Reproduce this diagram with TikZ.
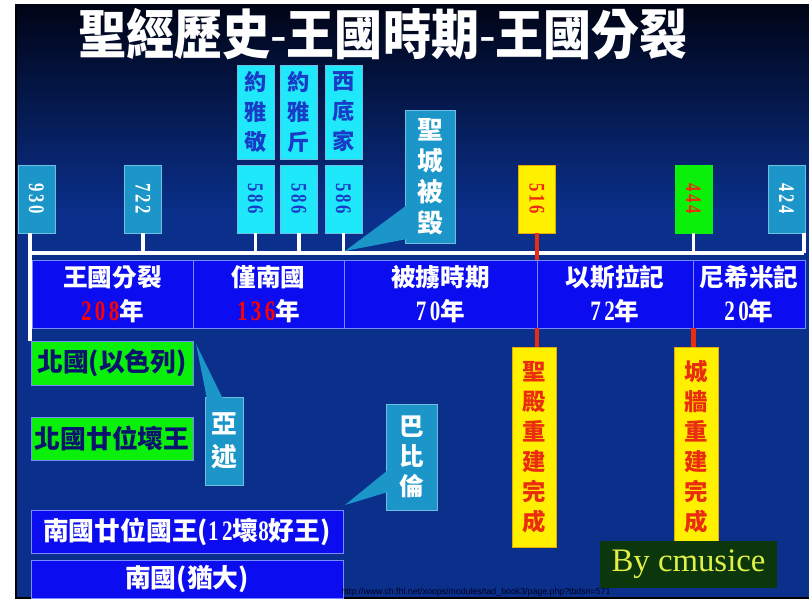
\documentclass[tikz,border=0pt]{standalone}
\usepackage{fontspec}
\newfontfamily\cjk{Noto Sans CJK TC}
\newfontfamily\numf[FakeStretch=0.75,LetterSpace=12]{Liberation Serif}
\newfontfamily\credf{Liberation Serif}
\newfontfamily\urlf{Liberation Sans}
\definecolor{slidebg}{RGB}{10,48,140}
\definecolor{slidetop}{RGB}{0,4,22}
\definecolor{tealbox}{RGB}{28,150,200}
\definecolor{tealline}{RGB}{110,190,225}
\definecolor{cyanbox}{RGB}{30,232,250}
\definecolor{cyantext}{RGB}{25,60,200}
\definecolor{bandblue}{RGB}{12,12,240}
\definecolor{bandline}{RGB}{120,140,255}
\definecolor{yellowbox}{RGB}{255,240,0}
\definecolor{yellowline}{RGB}{230,170,0}
\definecolor{redtext}{RGB}{235,45,15}
\definecolor{greenbox}{RGB}{10,240,10}
\definecolor{navytext}{RGB}{10,20,110}
\definecolor{creditbg}{RGB}{12,55,12}
\definecolor{credittext}{RGB}{225,240,70}
\newcommand\yrnum[2][white]{{\numf\fontsize{24}{27}\selectfont\color{#1}#2}}
\tikzset{
  yearbox/.style={draw=tealline, fill=tealbox, text=white, minimum width=1.11cm,
    minimum height=2.04cm, inner sep=0pt, font=\numf\bfseries\fontsize{19}{19}\selectfont},
  namebox/.style={draw=tealline, fill=cyanbox, text=cyantext, minimum width=1.11cm,
    minimum height=2.82cm, inner sep=0pt, align=center,
    font=\cjk\bfseries\fontsize{19}{25.6}\selectfont},
  period/.style={draw=bandline, fill=bandblue, text=white, minimum height=2.04cm,
    inner sep=0pt, align=center, font=\cjk\bfseries\fontsize{21}{29}\selectfont},
  kingdom/.style={draw=bandline, fill=greenbox, text=navytext, minimum width=4.86cm,
    inner sep=0pt, font=\cjk\bfseries\fontsize{22}{22}\selectfont},
  judah/.style={draw=bandline, fill=bandblue, text=white, minimum width=9.36cm,
    inner sep=0pt, font=\cjk\bfseries\fontsize{22}{22}\selectfont},
  callout/.style={draw=tealline, fill=tealbox, text=white, inner sep=0pt, align=center,
    font=\cjk\bfseries\fontsize{22}{26.5}\selectfont},
  wedge/.style={fill=tealbox},
  rebuilt/.style={draw=yellowline, fill=yellowbox, text=redtext, minimum width=1.32cm,
    minimum height=6cm, inner sep=0pt, align=center,
    font=\cjk\bfseries\fontsize{20}{25.6}\selectfont},
  tick/.style={white, line width=3.4pt},
  redtick/.style={redtext, line width=4pt}
}
\begin{document}
\begin{tikzpicture}[x=0.03cm,y=-0.03cm]
\useasboundingbox (0,0) rectangle (809,599);
\shade[top color=slidetop, bottom color=slidebg] (15,5) rectangle (809,215);
\fill[slidebg] (15,214) rectangle (809,599);
\draw[black, line width=2.2pt] (16,5) -- (16,598) -- (809,598);

\node[text=white, font=\cjk\bfseries\fontsize{41}{41}\selectfont] (title) at (383,34)
  {\scalebox{1}[1.12]{聖經歷史{\mdseries -}王國時期{\mdseries -}王國分裂}};

\coordinate (lineL) at (30,253);
\coordinate (lineR) at (804,253);

\node[yearbox] (yr930) at (36.5,199) {\rotatebox{-90}{930}};
\node[yearbox] (yr722) at (143,199) {\rotatebox{-90}{722}};
\node[yearbox, fill=cyanbox, text=cyantext] (yr586a) at (255.5,199) {\rotatebox{-90}{586}};
\node[yearbox, fill=cyanbox, text=cyantext] (yr586b) at (299,199) {\rotatebox{-90}{586}};
\node[yearbox, fill=cyanbox, text=cyantext] (yr586c) at (343.5,199) {\rotatebox{-90}{586}};
\node[yearbox, draw=yellowline, fill=yellowbox, text=redtext] (yr516) at (537,199) {\rotatebox{-90}{516}};
\node[yearbox, draw=greenbox, fill=greenbox, text=redtext] (yr444) at (693.5,199) {\rotatebox{-90}{444}};
\node[yearbox] (yr424) at (786.5,199) {\rotatebox{-90}{424}};

\node[namebox] (jehoiakim) at (255.5,112) {約\\雅\\敬};
\node[namebox] (jehoiachin) at (299,112) {約\\雅\\斤};
\node[namebox] (zedekiah) at (343.5,112) {西\\底\\家};

\node[period, minimum width=4.83cm] (pSplit) at (112.5,294) {王國分裂\\\yrnum[red]{208}年};
\node[period, minimum width=4.53cm] (pSouth) at (268.5,294) {僅南國\\\yrnum[red]{136}年};
\node[period, minimum width=5.79cm] (pExile) at (440.5,294) {被擄時期\\\yrnum{70}年};
\node[period, minimum width=4.68cm] (pEzra) at (615,294) {以斯拉記\\\yrnum{72}年};
\node[period, minimum width=3.36cm] (pNeh) at (749,294) {尼希米記\\\yrnum{20}年};

\node[kingdom, minimum height=1.32cm] (north) at (112,363) {北國(以色列)};
\node[kingdom, minimum height=1.29cm] (northKings) at (112,438.5) {北國廿位壞王};
\node[judah, minimum height=1.29cm] (southKings) at (187,531.5) {南國廿位國王(\yrnum{12}壞\yrnum{8}好王)};
\node[judah, minimum height=1.14cm] (south) at (187,579) {南國(猶大)};

\draw[tick] (lineL) -- (lineR);
\draw[tick] (yr930.south -| lineL) -- (lineL |- north.north);
\foreach \yr in {yr722,yr586a,yr586b,yr586c,yr444}
  \draw[tick] (\yr.south) -- (\yr.south |- lineL);
\draw[tick] (yr424.south -| lineR) -- (lineR);

\node[rebuilt] (temple) at (534,447) {聖\\殿\\重\\建\\完\\成};
\node[rebuilt] (wall) at (696,447) {城\\牆\\重\\建\\完\\成};

\draw[redtick] (yr516.south) -- (yr516.south |- pEzra.north);
\draw[redtick] (yr516.south |- pEzra.south) -- (yr516.south |- temple.north);
\draw[redtick] (yr444.south |- pNeh.south) -- (yr444.south |- wall.north);

\node[callout, minimum width=1.5cm, minimum height=3.99cm] (ruin) at (430,176.5) {聖\\城\\被\\毀};
\coordinate (ruinTip) at (345,251);
\fill[wedge] (407,205) -- (ruinTip) -- (407,239) -- cycle;

\node[callout, minimum width=1.14cm, minimum height=2.64cm,
  font=\cjk\bfseries\fontsize{22}{28}\selectfont] (assyria) at (224,441) {亞\\述};
\coordinate (assyriaTip) at (196,344);
\fill[wedge] (207,399) -- (assyriaTip) -- (223,399) -- cycle;

\node[callout, minimum width=1.53cm, minimum height=3.18cm,
  font=\cjk\bfseries\fontsize{21}{25.6}\selectfont] (babylon) at (411.5,457) {巴\\比\\倫};
\coordinate (babylonTip) at (345,505);
\fill[wedge] (388,470) -- (babylonTip) -- (388,492) -- cycle;

\node[fill=creditbg, text=credittext, minimum width=5.31cm, minimum height=1.41cm,
  font=\credf\fontsize{28}{28}\selectfont] (credit) at (688.5,564.5) {By cmusice};

\node[text={rgb,255:red,0;green,0;blue,30}, font=\urlf\fontsize{7.5}{8}\selectfont] (url) at (476,592)
  {http://www.ch.fhl.net/xoops/modules/tad\_book3/page.php?tbdsn=571};
\end{tikzpicture}
\end{document}
